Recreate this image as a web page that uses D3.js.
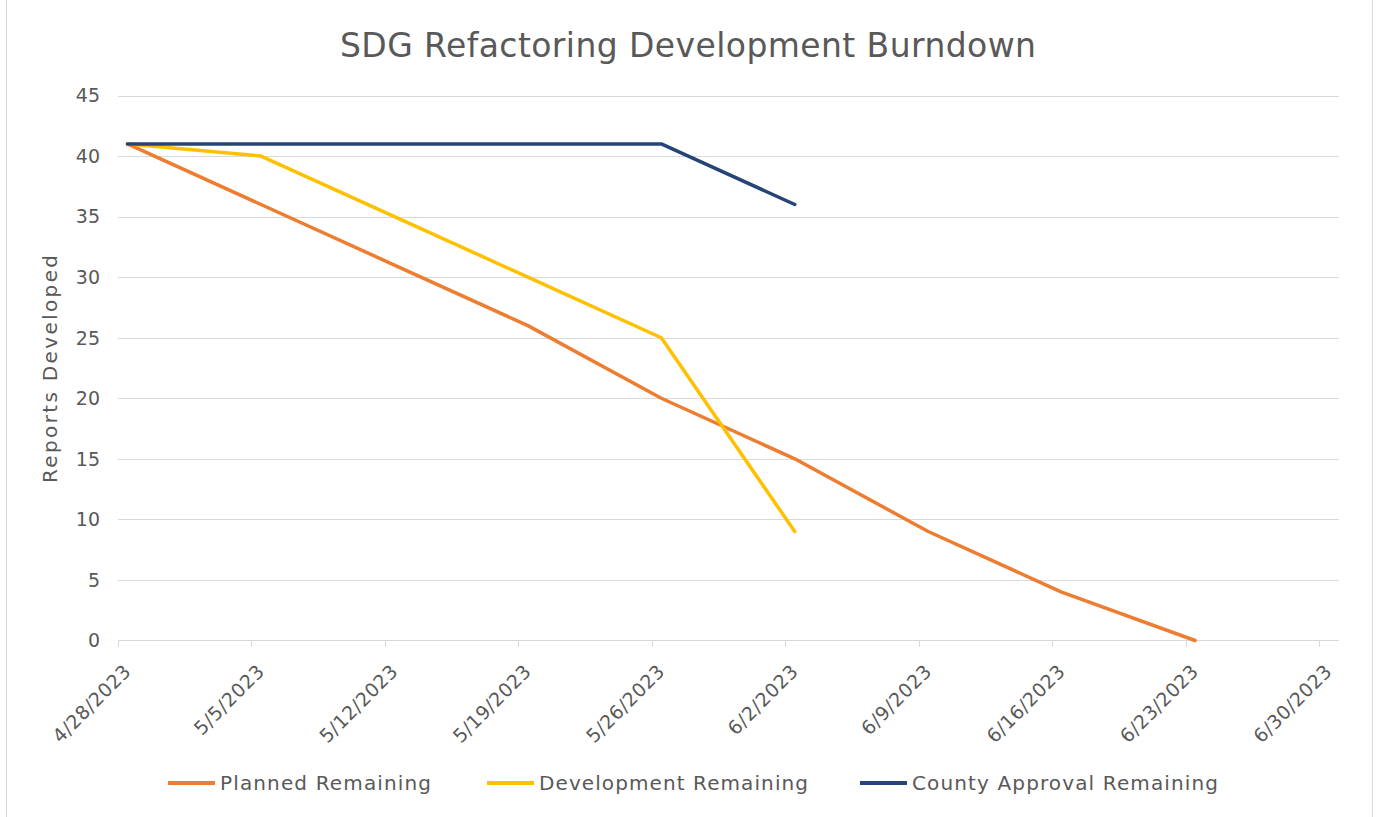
<!DOCTYPE html>
<html>
<head>
<meta charset="utf-8">
<script src="https://cdn.jsdelivr.net/npm/d3@7"></script>
<style>
  body { margin: 0; background: #fff; }
  svg text { font-family: "DejaVu Sans", "Lato", sans-serif; fill: #595959; }
</style>
</head>
<body>
<svg id="chart" width="1377" height="817"></svg>
<script>
const title = "SDG Refactoring Development Burndown";
const yAxisTitle = "Reports Developed";
const dates = ["2023-04-28T12:00","2023-05-05T12:00","2023-05-12T12:00","2023-05-19T12:00","2023-05-26T12:00","2023-06-02T12:00","2023-06-09T12:00","2023-06-16T12:00","2023-06-23T12:00"];
const planned = [41, 36, 31, 26, 20, 15, 9, 4, 0];
const development = [41, 40, 35, 30, 25, 9, null, null, null];
const county = [41, 41, 41, 41, 41, 36, null, null, null];
const xTicks = ["2023-04-28","2023-05-05","2023-05-12","2023-05-19","2023-05-26","2023-06-02","2023-06-09","2023-06-16","2023-06-23","2023-06-30"];
const yTicks = [0, 5, 10, 15, 20, 25, 30, 35, 40, 45];
const seriesNames = ["Planned Remaining", "Development Remaining", "County Approval Remaining"];
const seriesColors = ["#ED7D31", "#FFC000", "#264478"];

const svg = d3.select("#chart");
const parse = d3.isoParse;
const fmt = d3.timeFormat("%-m/%-d/%Y");

const x = d3.scaleTime()
  .domain([parse(xTicks[0]), parse(xTicks[xTicks.length - 1])])
  .range([118, 1319]);
const y = d3.scaleLinear().domain([0, 45]).range([640.5, 95.5]);

// border
svg.append("line").attr("x1", 6.5).attr("x2", 6.5).attr("y1", 0).attr("y2", 817).attr("stroke", "#d9d9d9");
svg.append("line").attr("x1", 1372.5).attr("x2", 1372.5).attr("y1", 0).attr("y2", 817).attr("stroke", "#d9d9d9");

// gridlines
svg.append("g").selectAll("line").data(yTicks.filter(d => d > 0)).join("line")
  .attr("x1", 118).attr("x2", 1339)
  .attr("y1", d => Math.round(y(d)) + 0.5).attr("y2", d => Math.round(y(d)) + 0.5)
  .attr("stroke", "#d9d9d9").attr("stroke-width", 1);

// y labels
svg.append("g").selectAll("text").data(yTicks).join("text")
  .attr("x", 100).attr("y", d => y(d)).attr("dy", "0.36em")
  .attr("text-anchor", "end").attr("font-size", 19).text(d => d);

// x axis line
svg.append("line").attr("x1", 118).attr("x2", 1339).attr("y1", 640.5).attr("y2", 640.5).attr("stroke", "#d9d9d9");
const xt = svg.append("g").selectAll("g").data(xTicks.map(parse)).join("g");
xt.append("line")
  .attr("x1", d => Math.round(x(d)) + 0.5).attr("x2", d => Math.round(x(d)) + 0.5)
  .attr("y1", 640.5).attr("y2", 647).attr("stroke", "#d9d9d9");
xt.append("text")
  .attr("transform", d => `translate(${x(d) + 9},${668}) rotate(-45)`)
  .attr("text-anchor", "end").attr("dy", "0.36em").attr("font-size", 19)
  .attr("textLength", d => fmt(d).length * 11.2).attr("lengthAdjust", "spacing")
  .text(d => fmt(d));

// lines
const allSeries = [planned, development, county];
const line = d3.line()
  .defined(d => d.v !== null)
  .x(d => x(parse(d.date))).y(d => y(d.v));
allSeries.forEach((vals, i) => {
  svg.append("path")
    .datum(dates.map((dt, j) => ({date: dt, v: vals[j]})))
    .attr("d", line)
    .attr("fill", "none")
    .attr("stroke", seriesColors[i])
    .attr("stroke-width", 3.5)
    .attr("stroke-linejoin", "round")
    .attr("stroke-linecap", "round");
});

// title
svg.append("text").attr("x", 688).attr("y", 57).attr("text-anchor", "middle")
  .attr("font-size", 33).attr("textLength", 696).attr("lengthAdjust", "spacing").text(title);

// y axis title
svg.append("text").attr("transform", "translate(57,369) rotate(-90)")
  .attr("text-anchor", "middle").attr("font-size", 20)
  .attr("textLength", 228).attr("lengthAdjust", "spacing").text(yAxisTitle);

// legend
const legendX = [168, 487, 860];
const legendW = [211, 269, 306];
const lg = svg.append("g").selectAll("g").data(seriesNames).join("g")
  .attr("transform", (d, i) => `translate(${legendX[i]},783)`);
lg.append("line").attr("x1", 0).attr("x2", 47).attr("y1", 0).attr("y2", 0)
  .attr("stroke", (d, i) => seriesColors[i]).attr("stroke-width", 4);
lg.append("text").attr("x", 52).attr("dy", "0.36em").attr("font-size", 20)
  .attr("textLength", (d, i) => legendW[i]).attr("lengthAdjust", "spacing").text(d => d);
</script>
</body>
</html>
